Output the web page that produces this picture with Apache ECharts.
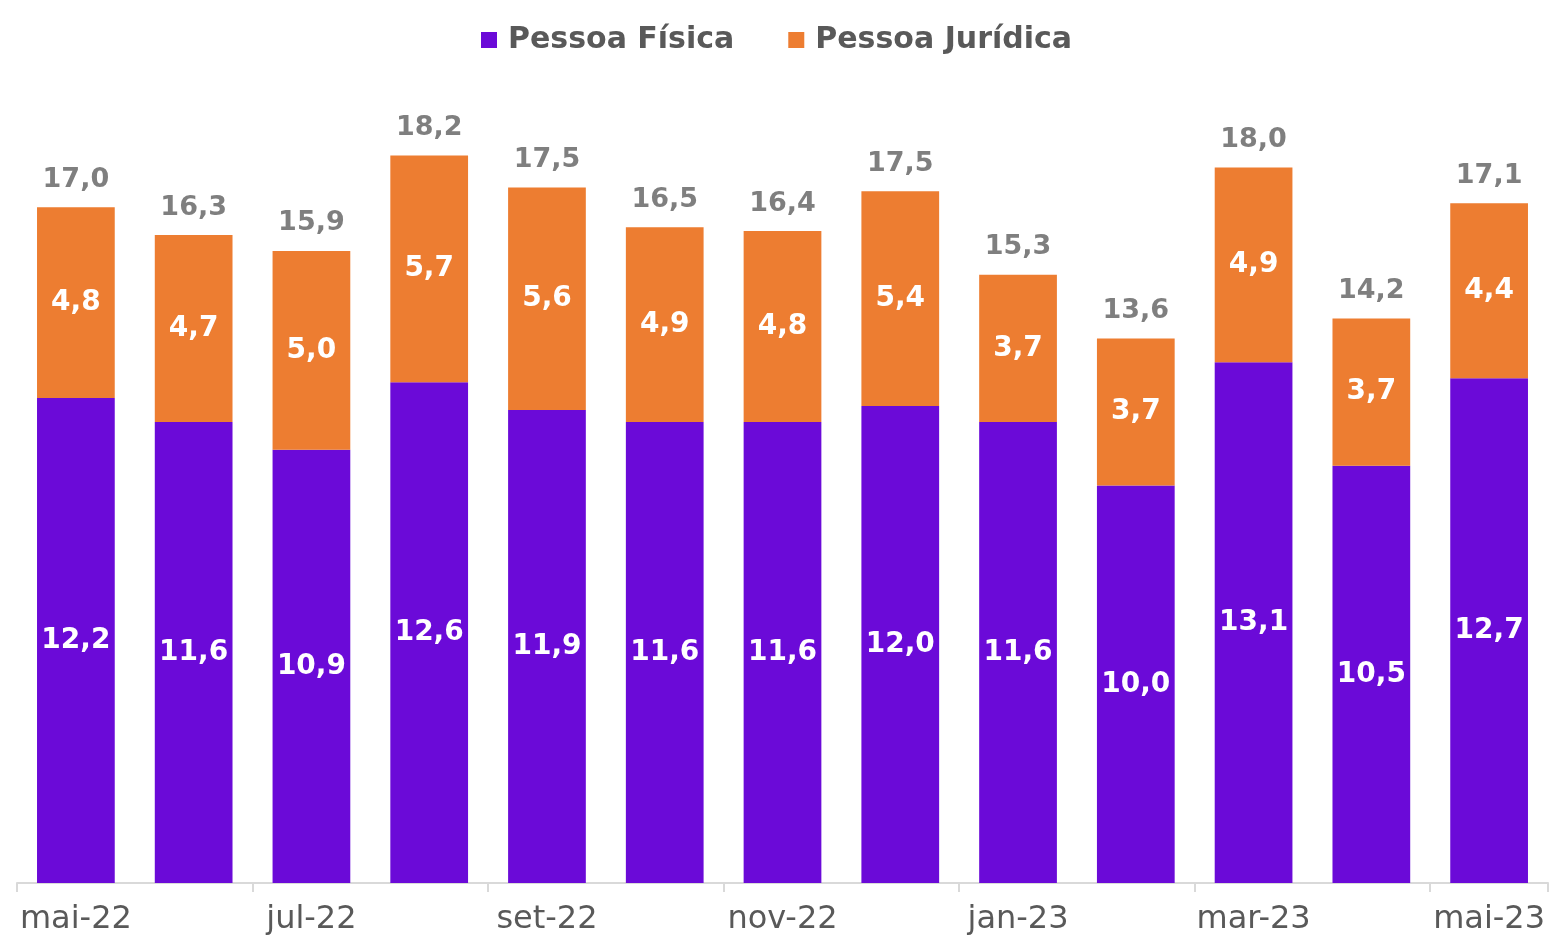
<!DOCTYPE html>
<html>
<head>
<meta charset="utf-8">
<script src="https://cdn.jsdelivr.net/npm/echarts@6/dist/echarts.min.js"></script>
<style>
  html, body { margin: 0; padding: 0; background: #fff; }
  #chart { width: 1553px; height: 942px; }
</style>
</head>
<body>
<div id="chart"></div>
<script>
var months = ['mai-22','jun-22','jul-22','ago-22','set-22','out-22','nov-22','dez-22','jan-23','fev-23','mar-23','abr-23','mai-23'];
var pessoaFisica = [12.2, 11.6, 10.9, 12.6, 11.9, 11.6, 11.6, 12.0, 11.6, 10.0, 13.1, 10.5, 12.7];
var pessoaJuridica = [4.8, 4.7, 5.0, 5.7, 5.6, 4.9, 4.8, 5.4, 3.7, 3.7, 4.9, 3.7, 4.4];
var totals = [17.0, 16.3, 15.9, 18.2, 17.5, 16.5, 16.4, 17.5, 15.3, 13.6, 18.0, 14.2, 17.1];

var fontName = 'DejaVu Sans';

function fmt(v) {
    return v.toFixed(1).replace('.', ',');
}

var myChart = echarts.init(document.getElementById('chart'));
var option = {
    animation: false,
    textStyle: { fontFamily: fontName },
    legend: {
        top: 20,
        left: 'center',
        itemWidth: 16,
        itemHeight: 16,
        itemGap: 54,
        icon: 'rect',
        data: ['Pessoa Física', 'Pessoa Jurídica'],
        textStyle: { color: '#595959', fontSize: 30, fontWeight: 'bold', fontFamily: fontName, padding: [0, 0, 0, 6] }
    },
    grid: { left: 17, right: 5, top: 88, bottom: 59 },
    xAxis: {
        type: 'category',
        data: months,
        axisLine: { lineStyle: { color: '#d9d9d9', width: 2 } },
        axisTick: { show: true, interval: 1, length: 9, lineStyle: { color: '#d9d9d9', width: 2 } },
        axisLabel: { interval: 1, color: '#595959', fontSize: 32, margin: 21, fontFamily: fontName }
    },
    yAxis: {
        type: 'value',
        min: 0,
        max: 20,
        show: false,
        splitLine: { show: false }
    },
    series: [
        {
            name: 'Pessoa Física',
            type: 'bar',
            stack: 'total',
            barWidth: '66%',
            itemStyle: { color: '#6b0ad8' },
            label: {
                show: true, position: 'inside', color: '#fff', fontSize: 28, fontWeight: 'bold',
                formatter: function (p) { return fmt(p.value); }
            },
            data: pessoaFisica
        },
        {
            name: 'Pessoa Jurídica',
            type: 'bar',
            stack: 'total',
            itemStyle: { color: '#ed7d31' },
            label: {
                show: true, position: 'inside', color: '#fff', fontSize: 28, fontWeight: 'bold',
                formatter: function (p) { return fmt(p.value); }
            },
            data: pessoaJuridica
        },
        {
            name: 'Total',
            type: 'bar',
            stack: 'total',
            itemStyle: { color: 'transparent' },
            label: {
                show: true, position: 'top', distance: 14, color: '#7f7f7f', fontSize: 27, fontWeight: 'bold',
                formatter: function (p) { return fmt(totals[p.dataIndex]); }
            },
            data: months.map(function () { return 0; })
        }
    ]
};
myChart.setOption(option);
</script>
</body>
</html>
